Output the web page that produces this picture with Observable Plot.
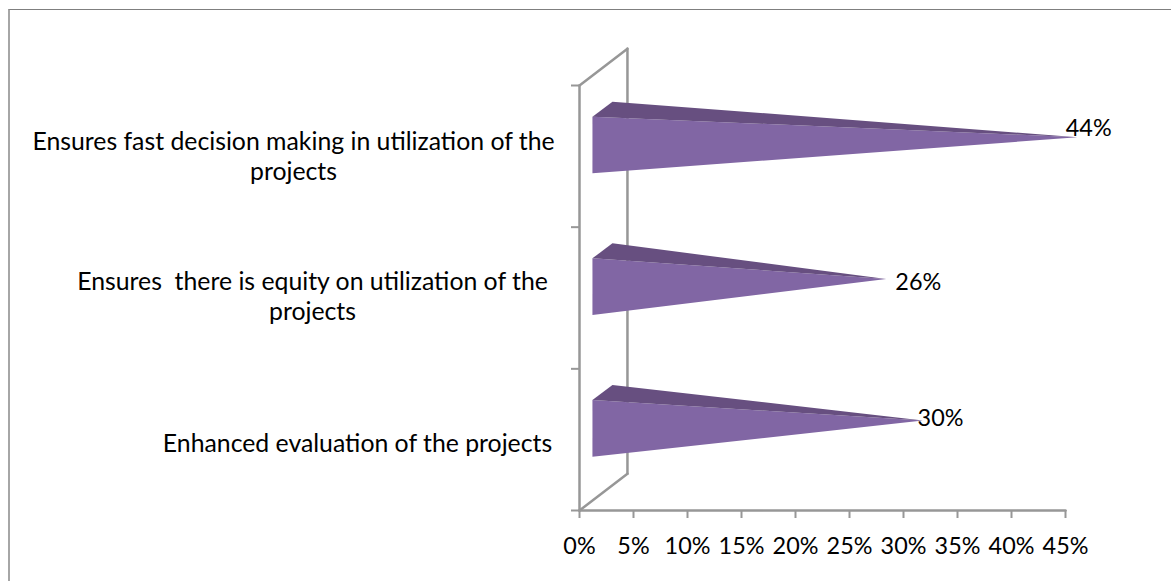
<!DOCTYPE html>
<html><head><meta charset="utf-8">
<script src="https://cdn.jsdelivr.net/npm/d3@7"></script>
<script src="https://cdn.jsdelivr.net/npm/@observablehq/plot@0.6"></script>
<style>
html,body{margin:0;padding:0;background:#fff;overflow:hidden}
#frame{position:absolute;left:8px;top:9px;width:1163px;height:572px;border-top:1px solid #7f7f7f;border-left:2px solid #a6a6a6;box-sizing:border-box}
#chart{position:absolute;left:0;top:0}
</style></head><body>
<div id="frame"></div><div id="chart"></div>
<script>
const categories = ["Enhanced evaluation of the projects",
  "Ensures  there is equity on utilization of the\nprojects",
  "Ensures fast decision making in utilization of the\nprojects"];
const values = [30, 26, 44];
const tickValues = [0,5,10,15,20,25,30,35,40,45];
const labelNudgeX = [37, 58, 34];
const labelNudgeY = [-21, -16, -28];
const textCenter = [-222, -267, -286];
const textShift = [3, -3, -1];

// 3-D cone geometry in data units
const wallX = 4.44, wallY = 0.26;
const baseX = 1.2, baseLift = 0.08, halfBase = 0.2;
const backX = 3.05, backLift = 0.106;
const tipLift = 0.135;
const tipX = [1.8, 2.4, 2.1];

const front = [], top_ = [];
values.forEach((v,i)=>{
  const c = i + 0.5;
  front.push({k:i,x:baseX,y:c+baseLift+halfBase},{k:i,x:v+tipX[i],y:c+tipLift},{k:i,x:baseX,y:c+baseLift-halfBase});
  top_.push({k:i,x:baseX,y:c+baseLift+halfBase},{k:i,x:backX,y:c+baseLift+halfBase+backLift},{k:i,x:v+tipX[i],y:c+tipLift});
});
const walls = [
  {k:"left",x:0,y:0},{k:"left",x:0,y:3},
  {k:"top",x:0,y:3},{k:"top",x:wallX,y:3+wallY},
  {k:"back",x:wallX,y:3+wallY},{k:"back",x:wallX,y:wallY},
  {k:"bottom",x:wallX,y:wallY},{k:"bottom",x:0,y:0},
  {k:"floor",x:0,y:0},{k:"floor",x:45,y:0}
];
const grey = "#979797";
const font = "Lato, sans-serif";
const size = 24.8, tickSize = 23.4;

const marks = [
  Plot.line(walls,{x:"x",y:"y",z:"k",stroke:grey,strokeWidth:2.5}),
  Plot.axisX({ticks:tickValues,tickFormat:d=>d+"%",tickSize:8,tickPadding:19,stroke:grey,strokeWidth:2,fontSize:tickSize,label:null,fill:"#000"}),
  Plot.axisY({ticks:[0,1,2,3],tickFormat:()=>"",tickSize:8,stroke:grey,strokeWidth:2,label:null}),
  Plot.line(front,{x:"x",y:"y",z:"k",fill:"#8166a4",stroke:null}),
  Plot.line(top_,{x:"x",y:"y",z:"k",fill:"#674f80",stroke:null})
];
categories.forEach((c,i)=>{
  marks.push(Plot.text([c],{x:[0],y:[i+0.5],text:d=>d,dx:textCenter[i],dy:textShift[i],fontSize:size,lineHeight:1.22,textAnchor:"middle",fill:"#000"}));
  marks.push(Plot.text([values[i]],{x:d=>d,y:[i+0.5],text:d=>d+"%",dx:labelNudgeX[i],dy:labelNudgeY[i],fontSize:tickSize,fill:"#000"}));
});
const plot = Plot.plot({
  width:1171,height:581,marginLeft:579,marginRight:106,marginTop:85,marginBottom:71,
  style:{fontFamily:font,background:"transparent",fontSize:size+"px"},
  x:{domain:[0,45]},y:{domain:[0,3]},
  marks
});
document.getElementById("chart").append(plot);
</script></body></html>
